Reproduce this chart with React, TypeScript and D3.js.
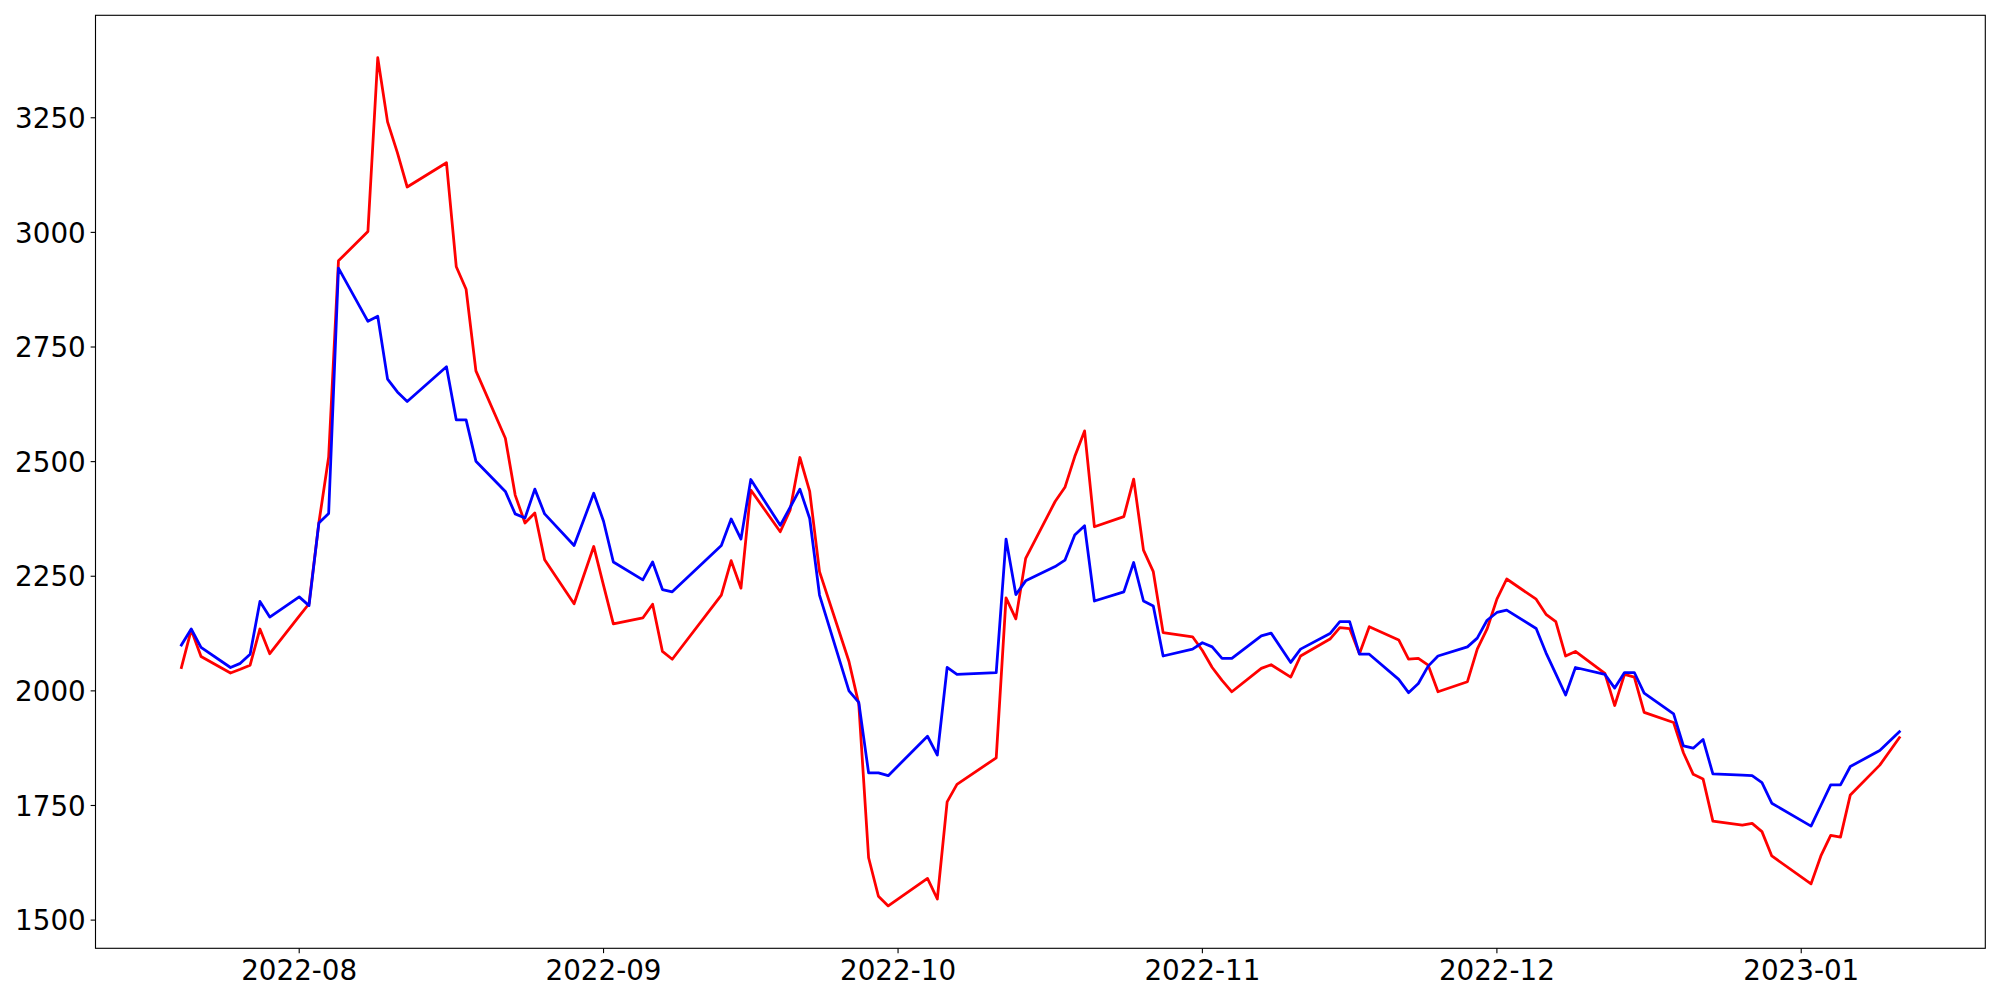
import React from 'react';
import * as d3 from 'd3';

const dates: string[] = [
  '2022-07-20','2022-07-21','2022-07-22','2022-07-25','2022-07-26','2022-07-27','2022-07-28','2022-07-29',
  '2022-08-01','2022-08-02','2022-08-03','2022-08-04','2022-08-05','2022-08-08','2022-08-09','2022-08-10',
  '2022-08-11','2022-08-12','2022-08-16','2022-08-17','2022-08-18','2022-08-19','2022-08-22','2022-08-23',
  '2022-08-24','2022-08-25','2022-08-26','2022-08-29','2022-08-31','2022-09-01','2022-09-02','2022-09-05',
  '2022-09-06','2022-09-07','2022-09-08','2022-09-13','2022-09-14','2022-09-15','2022-09-16','2022-09-19',
  '2022-09-20','2022-09-21','2022-09-22','2022-09-23','2022-09-26','2022-09-27','2022-09-28','2022-09-29',
  '2022-09-30','2022-10-04','2022-10-05','2022-10-06','2022-10-07','2022-10-11','2022-10-12','2022-10-13',
  '2022-10-14','2022-10-17','2022-10-18','2022-10-19','2022-10-20','2022-10-21','2022-10-24','2022-10-25',
  '2022-10-26','2022-10-27','2022-10-28','2022-10-31','2022-11-01','2022-11-02','2022-11-03','2022-11-04',
  '2022-11-07','2022-11-08','2022-11-10','2022-11-11','2022-11-14','2022-11-15','2022-11-16','2022-11-17',
  '2022-11-18','2022-11-21','2022-11-22','2022-11-23','2022-11-24','2022-11-25','2022-11-28','2022-11-29',
  '2022-11-30','2022-12-01','2022-12-02','2022-12-05','2022-12-06','2022-12-07','2022-12-08','2022-12-09',
  '2022-12-12','2022-12-13','2022-12-14','2022-12-15','2022-12-16','2022-12-19','2022-12-20','2022-12-21',
  '2022-12-22','2022-12-23','2022-12-26','2022-12-27','2022-12-28','2022-12-29','2023-01-02','2023-01-03',
  '2023-01-04','2023-01-05','2023-01-06','2023-01-09','2023-01-11',
];

const redValues: number[] = [
  2051, 2133, 2075, 2039, 2047, 2056, 2135, 2081,
  2163, 2190, 2366, 2510, 2938, 3002, 3381, 3241,
  3174, 3099, 3152, 2925, 2876, 2698, 2551, 2427,
  2366, 2388, 2286, 2190, 2315, 2230, 2146, 2159,
  2189, 2086, 2069, 2209, 2284, 2224, 2438, 2347,
  2394, 2509, 2435, 2260, 2064, 1971, 1636, 1552,
  1531, 1591, 1546, 1758, 1796, 1854, 2203, 2157,
  2289, 2413, 2444, 2511, 2567, 2358, 2380, 2462,
  2307, 2260, 2127, 2118, 2088, 2051, 2023, 1998,
  2049, 2057, 2030, 2076, 2113, 2138, 2136, 2081,
  2140, 2111, 2069, 2071, 2056, 1998, 2020, 2091,
  2135, 2200, 2244, 2200, 2167, 2151, 2076, 2086,
  2038, 1968, 2036, 2030, 1953, 1931, 1865, 1818,
  1808, 1716, 1707, 1711, 1693, 1640, 1579, 1640,
  1685, 1681, 1773, 1838, 1898,
];

const blueValues: number[] = [
  2100, 2135, 2095, 2051, 2060, 2080, 2195, 2161,
  2205, 2186, 2366, 2387, 2922, 2806, 2817, 2680,
  2652, 2631, 2707, 2591, 2591, 2501, 2435, 2386,
  2377, 2440, 2386, 2317, 2431, 2370, 2281, 2242,
  2281, 2221, 2216, 2317, 2375, 2331, 2461, 2361,
  2400, 2440, 2376, 2209, 2000, 1975, 1821, 1821,
  1815, 1901, 1860, 2051, 2036, 2040, 2331, 2210,
  2240, 2271, 2285, 2340, 2360, 2196, 2216, 2280,
  2196, 2185, 2076, 2091, 2105, 2096, 2071, 2071,
  2120, 2126, 2062, 2091, 2125, 2151, 2151, 2080,
  2080, 2025, 1996, 2016, 2054, 2076, 2096, 2115,
  2154, 2171, 2176, 2136, 2083, 2037, 1991, 2051,
  2036, 2006, 2040, 2040, 1995, 1950, 1880, 1875,
  1894, 1819, 1816, 1815, 1800, 1755, 1705, 1750,
  1795, 1795, 1835, 1870, 1911,
];

const yTicks: number[] = [1500, 1750, 2000, 2250, 2500, 2750, 3000, 3250];
const xTickDates: string[] = ['2022-08-01', '2022-09-01', '2022-10-01', '2022-11-01', '2022-12-01', '2023-01-01'];

const W = 2000;
const H = 1000;
const plotLeft = 95.5;
const plotRight = 1985.3;
const plotTop = 15.3;
const plotBottom = 948.3;
const FONT = 'DejaVu Sans, sans-serif';
const FS = 27.78;

export default function App() {
  const parse = d3.utcParse('%Y-%m-%d');
  const parsed = dates.map((d) => parse(d) as Date);
  const t0 = d3.min(parsed)!.getTime();
  const t1 = d3.max(parsed)!.getTime();
  const tPad = (t1 - t0) * 0.05;
  const x = d3.scaleUtc().domain([new Date(t0 - tPad), new Date(t1 + tPad)]).range([plotLeft, plotRight]);

  const all = redValues.concat(blueValues);
  const vMin = d3.min(all)!;
  const vMax = d3.max(all)!;
  const vPad = (vMax - vMin) * 0.05;
  const y = d3.scaleLinear().domain([vMin - vPad, vMax + vPad]).range([plotBottom, plotTop]);

  const line = d3
    .line<number>()
    .x((_, i) => x(parsed[i]))
    .y((v) => y(v));

  const fmt = d3.utcFormat('%Y-%m');
  const tickLen = 4.86;
  const pad = 4.86;

  return (
    <svg
      width={W}
      height={H}
      viewBox={`0 0 ${W} ${H}`}
      style={{ position: 'absolute', left: 0, top: 0, background: '#fff' }}
    >
      <rect x={0} y={0} width={W} height={H} fill="#fff" />
      <path d={line(redValues) || ''} fill="none" stroke="#ff0000" strokeWidth={2.78} strokeLinejoin="round" strokeLinecap="square" />
      <path d={line(blueValues) || ''} fill="none" stroke="#0000ff" strokeWidth={2.78} strokeLinejoin="round" strokeLinecap="square" />
      <rect
        x={plotLeft}
        y={plotTop}
        width={plotRight - plotLeft}
        height={plotBottom - plotTop}
        fill="none"
        stroke="#000"
        strokeWidth={1.11}
      />
      {yTicks.map((t) => (
        <g key={`y${t}`}>
          <line x1={plotLeft - tickLen} x2={plotLeft} y1={y(t)} y2={y(t)} stroke="#000" strokeWidth={1.11} />
          <text
            x={plotLeft - tickLen - pad}
            y={y(t) + 10.2}
            textAnchor="end"
            fontFamily={FONT}
            fontSize={FS}
            fill="#000"
          >
            {t}
          </text>
        </g>
      ))}
      {xTickDates.map((s) => {
        const d = parse(s) as Date;
        const xp = x(d);
        return (
          <g key={`x${s}`}>
            <line x1={xp} x2={xp} y1={plotBottom} y2={plotBottom + tickLen} stroke="#000" strokeWidth={1.11} />
            <text x={xp} y={980} textAnchor="middle" fontFamily={FONT} fontSize={FS} fill="#000">
              {fmt(d)}
            </text>
          </g>
        );
      })}
    </svg>
  );
}
